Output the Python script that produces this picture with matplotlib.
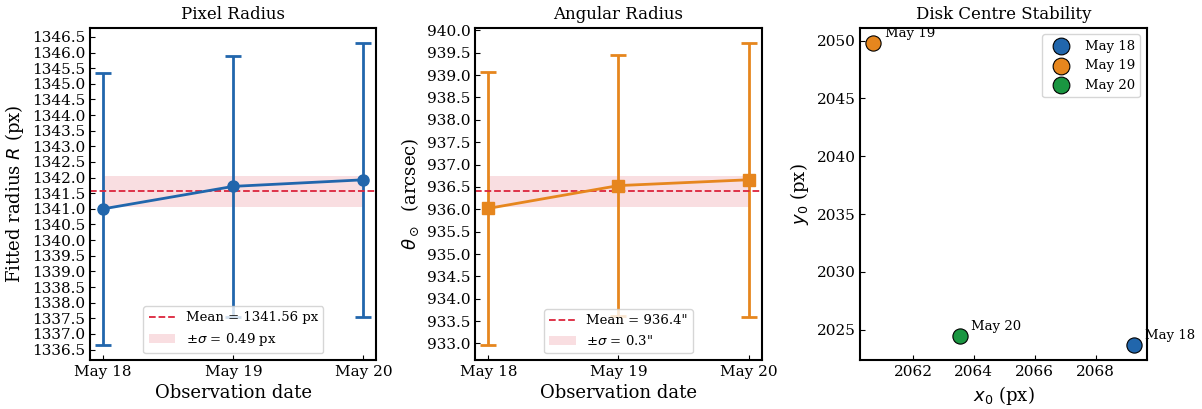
import matplotlib
matplotlib.use("Agg")
import matplotlib.pyplot as plt
import numpy as np

# ==========================================
# DATA
# ==========================================

dates = ["May 18", "May 19", "May 20"]

radius_px = [1341.00, 1341.72, 1341.93]
radius_px_err = [4.35, 4.17, 4.38]
radius_px_mean = 1341.56
radius_px_std = 0.49

radius_arcsec = [936.02, 936.53, 936.66]
radius_arcsec_err = [3.05, 2.92, 3.06]
radius_arcsec_mean = 936.40
radius_arcsec_std = 0.35

x0 = [2069.25, 2060.70, 2063.55]
y0 = [2023.70, 2049.80, 2024.50]

# ==========================================
# STYLE
# ==========================================

plt.rcParams["font.family"] = "DejaVu Serif"
plt.rcParams["mathtext.fontset"] = "dejavusans"
plt.rcParams["xtick.direction"] = "in"
plt.rcParams["ytick.direction"] = "in"
plt.rcParams["xtick.labelsize"] = 11
plt.rcParams["ytick.labelsize"] = 11

blue = "#2166ac"
orange = "#e6861e"
green = "#1a9641"
red = "#dc243c"
colours = [blue, orange, green]

fig, axes = plt.subplots(1, 3, figsize=(12.02, 4.09), dpi=100)
fig.subplots_adjust(left=0.075, right=0.954, top=0.932, bottom=0.12, wspace=0.345)

x = np.arange(len(dates))

# ==========================================
# PIXEL RADIUS
# ==========================================

ax = axes[0]
ax.errorbar(x, radius_px, yerr=radius_px_err, color=blue, marker="o",
            markersize=8, lw=2, capsize=6, capthick=2, elinewidth=2)
ax.axhline(radius_px_mean, color=red, ls="--", lw=1.3,
           label=f"Mean = {radius_px_mean:.2f} px")
ax.fill_between(x, radius_px_mean - radius_px_std, radius_px_mean + radius_px_std,
                color=red, alpha=0.15, lw=0,
                label=rf"$\pm\sigma$ = {radius_px_std:.2f} px")
ax.set_xticks(x)
ax.set_xticklabels(dates)
ax.yaxis.set_major_locator(plt.MultipleLocator(0.5))
ax.set_title("Pixel Radius", fontsize=12)
ax.set_xlabel("Observation date", fontsize=13)
ax.set_ylabel(r"Fitted radius $R$ (px)", fontsize=13)
ax.legend(loc="lower center", fontsize=9.5)

# ==========================================
# ANGULAR RADIUS
# ==========================================

ax = axes[1]
ax.errorbar(x, radius_arcsec, yerr=radius_arcsec_err, color=orange, marker="s",
            markersize=8, lw=2, capsize=6, capthick=2, elinewidth=2)
ax.axhline(radius_arcsec_mean, color=red, ls="--", lw=1.3,
           label=f'Mean = {radius_arcsec_mean:.1f}"')
ax.fill_between(x, radius_arcsec_mean - radius_arcsec_std,
                radius_arcsec_mean + radius_arcsec_std,
                color=red, alpha=0.15, lw=0,
                label=rf'$\pm\sigma$ = {radius_arcsec_std:.1f}"')
ax.set_xticks(x)
ax.set_xticklabels(dates)
ax.yaxis.set_major_locator(plt.MultipleLocator(0.5))
ax.set_title("Angular Radius", fontsize=12)
ax.set_xlabel("Observation date", fontsize=13)
ax.set_ylabel(r"$\theta_\odot$  (arcsec)", fontsize=13)
ax.legend(loc="lower center", fontsize=9.5)

# ==========================================
# DISK CENTRE
# ==========================================

ax = axes[2]
for i in range(len(dates)):
    ax.scatter(x0[i], y0[i], s=120, color=colours[i], edgecolor="black",
               lw=0.8, zorder=3, label=dates[i])
    ax.annotate(dates[i], (x0[i], y0[i]), xytext=(8, 4),
                textcoords="offset points", fontsize=9.5)
ax.xaxis.set_major_locator(plt.MultipleLocator(2))
ax.set_title("Disk Centre Stability", fontsize=12)
ax.set_xlabel(r"$x_0$ (px)", fontsize=13)
ax.set_ylabel(r"$y_0$ (px)", fontsize=13)
ax.legend(loc="upper right", fontsize=9.5, markerscale=1.1)

for ax in axes:
    for s in ax.spines.values():
        s.set_linewidth(1.5)

plt.savefig("out.png", dpi=100)
